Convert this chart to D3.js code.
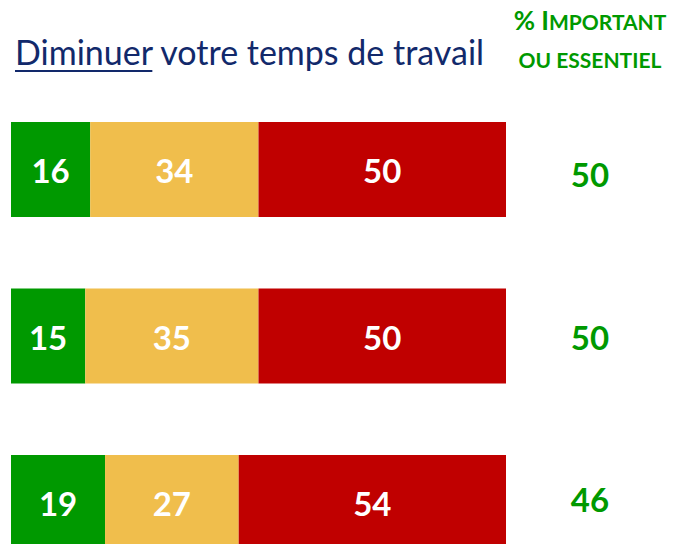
<!DOCTYPE html>
<html><head><meta charset="utf-8">
<script src="https://cdn.jsdelivr.net/npm/d3@7"></script>
<style>body{margin:0;background:#fff;overflow:hidden}</style>
</head><body>
<svg id="c" width="675" height="544"></svg>
<script>
const rows = ["r1","r2","r3"];
const seriesNames = ["Pas important","Moyennement","Important ou essentiel"];
const green = [16,15,19];
const yellow = [34,35,27];
const red = [50,50,54];
const importantPct = [50,50,46];
const colors = ["#009900","#F0BE4C","#C00000"];

const svg = d3.select("#c");
const font = "Lato, 'Open Sans', sans-serif";
const x = d3.scaleLinear().domain([0,100]).range([11,506]);
const y = d3.scalePoint().domain(rows).range([122,455]);
const yR = d3.scalePoint().domain(rows).range([187,512]);
const barH = 95;

const data = rows.map((r,i)=>({row:r, vals:[green[i],yellow[i],red[i]], imp:importantPct[i]}));
data.forEach(d=>{
  let acc=0;
  d.segs = d.vals.map((v,j)=>{const s={x0:acc,x1:acc+v,v,j,row:d.row}; acc+=v; return s;});
});

const g = svg.selectAll("g.row").data(data).join("g").attr("class","row");
g.selectAll("rect").data(d=>d.segs).join("rect")
  .attr("x",s=>x(s.x0)).attr("width",s=>x(s.x1)-x(s.x0))
  .attr("y",s=>y(s.row)).attr("height",barH)
  .attr("fill",s=>colors[s.j]);
g.selectAll("text.lab").data(d=>d.segs).join("text").attr("class","lab")
  .attr("x",s=>(x(s.x0)+x(s.x1))/2).attr("y",s=>y(s.row)+61)
  .attr("text-anchor","middle").attr("fill","#fff")
  .style("font-family",font).style("font-weight","bold").style("font-size","33px")
  .text(s=>s.v);
g.append("text")
  .attr("x",590).attr("y",d=>yR(d.row))
  .attr("text-anchor","middle").attr("fill","#009900")
  .style("font-family",font).style("font-weight","bold").style("font-size","33px")
  .text(d=>d.imp);

// title
const t = svg.append("text").attr("x",15).attr("y",65)
  .style("font-family",font).style("font-size","34px").style("font-weight","400").attr("fill","#12296B");
t.append("tspan").text("Diminuer");
t.append("tspan").text(" votre temps de travail");
const tw = t.select("tspan").node().getComputedTextLength();
svg.append("line").attr("x1",15).attr("x2",15+tw).attr("y1",71).attr("y2",71)
  .attr("stroke","#12296B").attr("stroke-width",2);

// header
const h1 = svg.append("text").attr("x",590).attr("y",30).attr("text-anchor","middle")
  .attr("fill","#009900").style("font-family",font).style("font-weight","bold");
h1.append("tspan").style("font-size","26px").text("% I");
h1.append("tspan").style("font-size","21px").text("MPORTANT");
svg.append("text").attr("x",590).attr("y",68).attr("text-anchor","middle")
  .attr("fill","#009900").style("font-family",font).style("font-weight","bold")
  .style("font-size","21px").text("OU ESSENTIEL");
</script>
</body></html>
